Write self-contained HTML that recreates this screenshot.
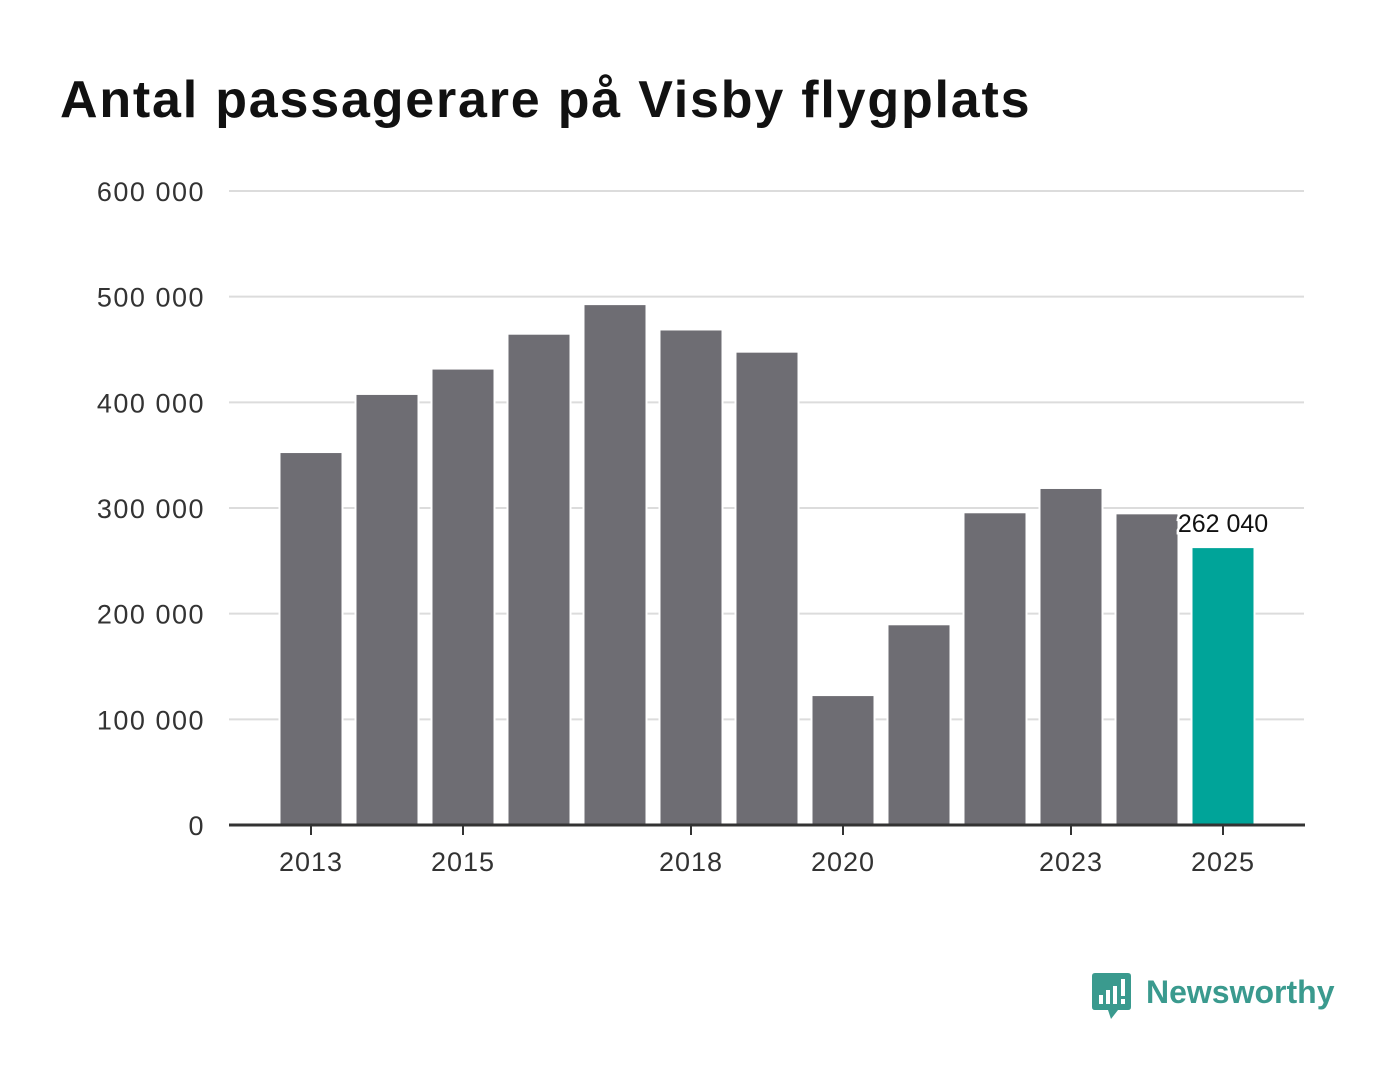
<!DOCTYPE html>
<html><head><meta charset="utf-8"><style>
body{margin:0;background:#fff;width:1400px;height:1080px;overflow:hidden;font-family:"Liberation Sans","DejaVu Sans",sans-serif}
h1{position:absolute;left:60px;top:70px;margin:0;font-size:52px;font-weight:bold;color:#111;letter-spacing:1.8px}
</style></head><body>
<h1>Antal passagerare på Visby flygplats</h1>
<svg id="chart" width="1400" height="1080" style="position:absolute;left:0;top:0">
<g id="grid"></g><g id="bars"></g><g id="axes"></g>
<g transform="translate(1092,973)">
<path d="M3 0 H36 Q39 0 39 3 V34 Q39 37 36 37 H26 L19 46 L16 37 H3 Q0 37 0 34 V3 Q0 0 3 0Z" fill="#3a9a8e"/>
<rect x="7" y="22" width="4" height="9" fill="#fff"/><rect x="14" y="17" width="4" height="14" fill="#fff"/><rect x="21" y="13" width="4" height="18" fill="#fff"/><rect x="29" y="6" width="4" height="17" fill="#fff"/><rect x="29" y="26" width="4" height="5" fill="#fff"/>
<text x="54" y="30" font-size="32" font-weight="bold" fill="#3a9a8e" font-family="Liberation Sans, sans-serif">Newsworthy</text>
</g>
</svg>
<script>
const years=[2013,2014,2015,2016,2017,2018,2019,2020,2021,2022,2023,2024,2025];
const values=[352000,407000,431000,464000,492000,468000,447000,122000,189000,295000,318000,294000,262040];
const yTicks=[0,100000,200000,300000,400000,500000,600000];
const yTickLabels=["0","100 000","200 000","300 000","400 000","500 000","600 000"];
const xTickYears=[2013,2015,2018,2020,2023,2025];
const highlightLabel="262 040";
const NS="http://www.w3.org/2000/svg";
const y0=825,yTop=191,yMax=600000,x0=311,step=76,bw=61;
const yS=v=>y0-(v/yMax)*(y0-yTop);
const xS=yr=>x0+(yr-years[0])*step;
function mk(tag,attrs,parent){const e=document.createElementNS(NS,tag);for(const k in attrs)e.setAttribute(k,attrs[k]);parent.appendChild(e);return e;}
const grid=document.getElementById('grid'),bars=document.getElementById('bars'),axes=document.getElementById('axes');
yTicks.forEach((t,i)=>{
 if(t>0){const l=mk('line',{x1:229,x2:1304,y1:yS(t),y2:yS(t),stroke:'#dcdcdc','stroke-width':2},grid);
 
 }
 const tx=mk('text',{x:205,y:yS(t)+10,'text-anchor':'end','font-size':27,fill:'#333','letter-spacing':1.5},axes);
 tx.textContent=yTickLabels[i];
 
 
});
years.forEach((yr,i)=>{
 const last=i===years.length-1;
 const r=mk('rect',{x:xS(yr)-bw/2,y:yS(values[i]),width:bw,height:y0-yS(values[i]),fill:last?'#00a499':'#6e6d73',stroke:'#fff','stroke-width':4,'paint-order':'stroke'},bars);
 
 
});
const li=years.length-1;
const lab=mk('text',{x:xS(years[li]),y:yS(values[li])-16,'text-anchor':'middle','font-size':25,fill:'#111',stroke:'#fff','stroke-width':5,'paint-order':'stroke'},axes);
lab.textContent=highlightLabel;


const ax=mk('line',{x1:229,x2:1305,y1:y0,y2:y0,stroke:'#333','stroke-width':3},axes);


xTickYears.forEach(yr=>{
 const t=mk('line',{x1:xS(yr),x2:xS(yr),y1:y0,y2:y0+10,stroke:'#333','stroke-width':2},axes);
 
 
 const tx=mk('text',{x:xS(yr),y:871,'text-anchor':'middle','font-size':27,fill:'#333','letter-spacing':1},axes);
 tx.textContent=yr;
 
 
});
</script>
</body></html>
